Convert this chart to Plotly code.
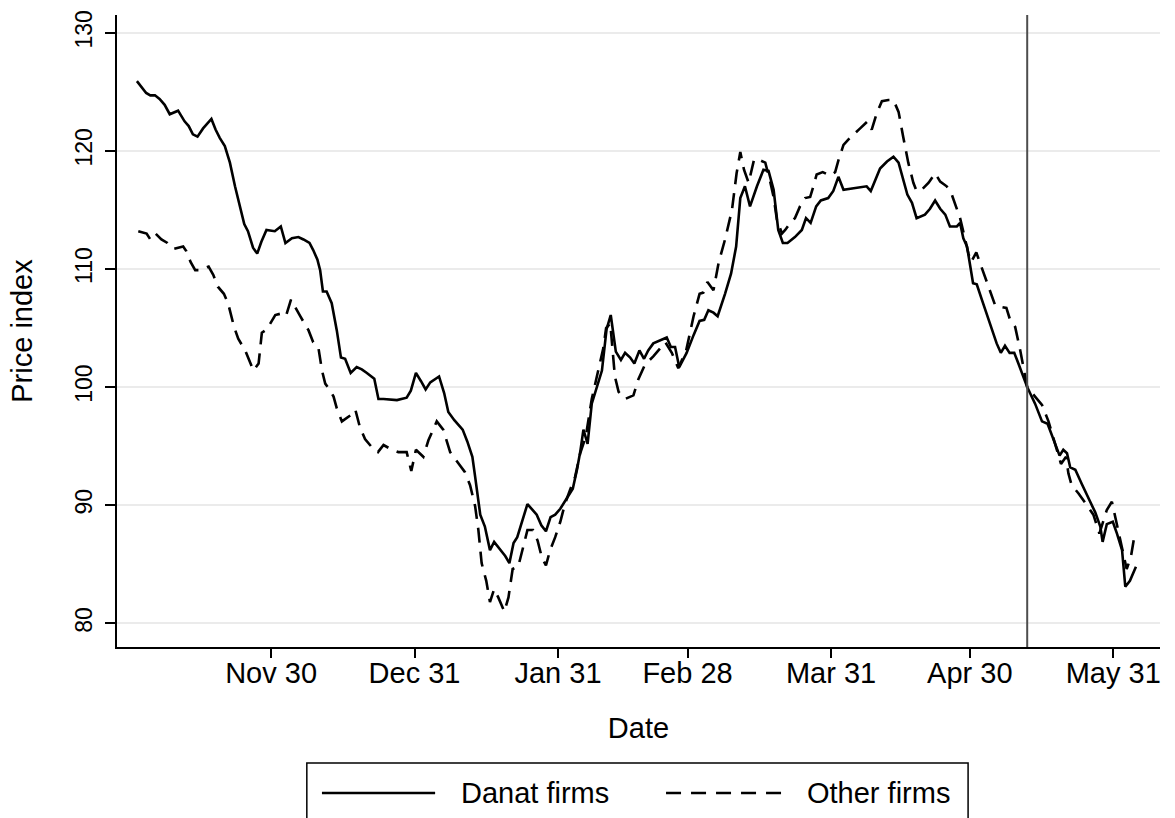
"""
Share prices of Danat-connected firms vs other firms, 1930-31.
Both series are indexed to 100 on the event date (vertical line).
"""

import pandas as pd
import plotly.graph_objects as go


# ── Data ────────────────────────────────────────────────────────
# days are counted from 30 Nov 1930
BASE_DATE = pd.Timestamp("1930-11-30")

danat_day = [
    -29.0, -27.0, -26.1, -25.1, -24.1, -23.0, -21.9, -21.2, -20.1, -18.7,
    -17.8, -16.9, -15.9, -14.7, -12.9, -12.0, -11.1, -10.0, -8.9, -7.8,
    -6.8, -5.8, -5.0, -3.9, -3.0, -2.1, -1.0, 0.8, 2.1, 3.1,
    4.5, 5.9, 7.0, 8.3, 9.1, 10.0, 10.6, 11.2, 12.0, 13.1,
    14.2, 15.1, 16.0, 17.2, 18.5, 19.6, 20.7, 22.3, 23.2, 24.3,
    27.2, 29.3, 30.2, 31.3, 32.4, 33.4, 34.4, 36.3, 37.4, 38.3,
    39.6, 41.4, 42.4, 43.5, 44.1, 44.6, 45.2, 46.2, 47.3, 48.2,
    49.5, 50.6, 51.5, 52.4, 53.2, 54.3, 55.4, 56.5, 57.4, 58.4,
    59.4, 60.4, 61.4, 62.5, 63.5, 64.3, 65.2, 66.1, 66.8, 67.5,
    68.4, 69.3, 70.4, 71.5, 72.5, 73.4, 74.5, 75.6, 76.5, 77.6,
    78.5, 79.6, 80.6, 81.5, 82.6, 85.5, 86.4, 87.3, 88.2, 89.8,
    91.3, 92.6, 93.6, 94.5, 95.6, 96.5, 98.1, 99.4, 100.5, 101.4,
    102.4, 103.5, 105.0, 106.4, 107.5, 108.6, 109.6, 110.6, 111.6, 113.2,
    114.7, 115.6, 116.6, 117.8, 118.8, 120.4, 121.5, 122.6, 123.7, 128.7,
    129.6, 130.5, 131.6, 133.1, 134.5, 135.6, 136.5, 137.5, 138.5, 139.5,
    141.3, 142.4, 143.5, 144.6, 145.7, 146.7, 148.2, 148.9, 149.6, 150.4,
    151.7, 152.5, 153.6, 155.0, 156.8, 157.7, 158.6, 159.6, 160.6, 161.5,
    163.4, 165.1, 166.6, 167.8, 169.1, 170.4, 171.2, 172.0, 172.7, 173.8,
    175.2, 176.6, 178.1, 179.2, 179.7, 180.6, 181.9, 182.8, 183.9, 184.6,
    185.6, 186.9,
]
danat_index = [
    125.9, 124.9, 124.7, 124.7, 124.4, 123.9, 123.1, 123.2, 123.4, 122.5,
    122.1, 121.4, 121.2, 121.9, 122.7, 121.8, 121.1, 120.4, 119.0, 117.0,
    115.3, 113.8, 113.2, 111.8, 111.3, 112.3, 113.3, 113.2, 113.6, 112.2,
    112.6, 112.7, 112.5, 112.2, 111.6, 110.8, 109.9, 108.1, 108.1, 107.1,
    104.8, 102.5, 102.4, 101.2, 101.7, 101.5, 101.2, 100.7, 99.0, 99.0,
    98.9, 99.1, 99.7, 101.2, 100.5, 99.8, 100.4, 100.9, 99.5, 97.9,
    97.2, 96.4, 95.4, 94.1, 92.4, 90.7, 89.2, 88.2, 86.2, 86.9,
    86.3, 85.7, 85.1, 86.8, 87.3, 88.7, 90.1, 89.6, 89.2, 88.3,
    87.8, 89.0, 89.2, 89.7, 90.3, 90.8, 91.4, 93.0, 94.5, 96.4,
    95.2, 98.6, 100.0, 101.4, 104.9, 106.1, 103.0, 102.3, 102.9, 102.5,
    102.0, 103.1, 102.4, 103.1, 103.7, 104.2, 103.4, 103.4, 101.7, 102.9,
    104.4, 105.6, 105.7, 106.5, 106.3, 106.0, 107.9, 109.6, 111.9, 116.0,
    117.0, 115.3, 117.0, 118.4, 118.3, 116.7, 113.3, 112.2, 112.2, 112.7,
    113.3, 114.3, 113.9, 115.3, 115.8, 116.0, 116.6, 117.8, 116.7, 117.0,
    116.6, 117.5, 118.5, 119.1, 119.5, 119.0, 117.7, 116.3, 115.6, 114.3,
    114.6, 115.1, 115.8, 115.1, 114.6, 113.6, 113.6, 113.9, 112.6, 111.9,
    108.8, 108.7, 107.4, 105.8, 103.7, 102.9, 103.5, 102.9, 102.9, 102.0,
    100.0, 98.6, 97.1, 96.9, 95.5, 94.2, 94.7, 94.4, 93.2, 93.0,
    91.8, 90.7, 89.4, 88.2, 86.9, 88.4, 88.6, 87.6, 86.2, 83.1,
    83.6, 84.8,
]

other_day = [
    -28.7, -26.9, -26.1, -25.0, -23.7, -22.4, -21.0, -19.0, -18.3, -17.4,
    -16.4, -15.4, -13.5, -12.5, -11.5, -10.2, -9.3, -8.6, -8.0, -7.1,
    -5.6, -3.8, -2.7, -2.0, -0.9, 0.9, 1.9, 3.2, 4.3, 6.3,
    8.1, 9.1, 10.2, 11.0, 11.7, 12.8, 13.5, 14.2, 15.3, 17.1,
    18.2, 19.2, 20.3, 21.8, 23.1, 24.3, 26.1, 27.5, 29.3, 30.3,
    31.3, 32.9, 34.0, 35.8, 37.2, 38.7, 40.5, 41.9, 43.0, 44.1,
    44.8, 45.5, 46.5, 47.3, 48.2, 49.1, 50.4, 51.3, 52.2, 53.4,
    54.5, 55.4, 56.6, 57.6, 58.5, 59.4, 60.3, 61.4, 62.5, 63.5,
    64.6, 65.7, 66.8, 68.0, 69.3, 70.7, 71.8, 72.4, 73.3, 74.3,
    75.1, 76.5, 78.3, 79.4, 80.8, 82.6, 84.1, 85.2, 86.6, 88.0,
    89.7, 91.3, 92.6, 93.4, 94.3, 95.6, 96.7, 98.1, 99.6, 100.6,
    101.4, 102.2, 103.2, 104.4, 105.7, 106.8, 107.8, 108.6, 109.3, 110.4,
    111.1, 112.2, 113.2, 114.3, 115.4, 116.5, 117.2, 117.9, 119.2, 120.8,
    121.9, 122.6, 123.7, 125.1, 127.3, 128.9, 129.8, 130.9, 132.0, 133.4,
    134.5, 135.6, 136.6, 137.7, 138.8, 139.5, 140.6, 142.1, 143.5, 144.6,
    146.0, 147.1, 148.0, 148.9, 150.0, 150.7, 151.3, 152.4, 153.4, 155.4,
    156.5, 157.6, 158.9, 159.7, 160.8, 161.9, 163.4, 165.1, 166.6, 168.0,
    169.4, 170.7, 171.8, 172.3, 173.0, 174.5, 176.3, 177.7, 179.0, 179.9,
    180.6, 181.7, 182.4, 183.3, 184.2, 184.9, 185.8, 186.7,
]
other_index = [
    113.2, 113.0, 112.5, 113.0, 112.5, 112.2, 111.7, 111.9, 111.5, 110.6,
    109.9, 109.9, 110.2, 109.5, 108.5, 107.9, 107.1, 106.1, 105.1, 104.1,
    103.1, 101.4, 102.0, 104.6, 104.9, 106.1, 106.2, 106.0, 107.4, 106.0,
    104.8, 103.8, 103.4, 101.4, 100.3, 99.7, 99.2, 98.2, 97.1, 97.6,
    98.1, 96.6, 95.6, 94.9, 94.5, 95.1, 94.7, 94.5, 94.5, 92.9,
    94.7, 94.1, 95.5, 97.1, 96.4, 94.5, 93.5, 92.8, 91.7, 89.9,
    87.9, 85.1, 83.6, 81.8, 82.9, 82.2, 81.0, 82.2, 84.6, 84.8,
    86.5, 87.9, 87.9, 87.0, 85.6, 84.9, 86.2, 87.3, 88.6, 90.1,
    91.3, 92.4, 94.4, 95.8, 99.0, 101.4, 103.3, 105.0, 105.4, 100.9,
    99.6, 99.0, 99.3, 100.7, 101.9, 102.6, 103.3, 103.8, 102.9, 101.6,
    103.1, 106.0, 107.9, 108.0, 108.9, 108.2, 110.5, 112.5, 115.0, 118.1,
    119.9, 118.4, 117.3, 119.3, 119.2, 119.0, 117.5, 116.1, 114.2, 113.0,
    113.3, 113.9, 114.3, 115.3, 116.0, 116.1, 117.0, 118.0, 118.2, 117.9,
    118.2, 119.2, 120.5, 121.1, 121.9, 122.5, 121.8, 123.2, 124.2, 124.3,
    124.3, 123.3, 121.2, 119.0, 117.3, 116.6, 116.7, 117.3, 118.1, 117.4,
    117.0, 116.3, 115.3, 114.3, 112.5, 111.3, 110.6, 111.4, 110.3, 108.1,
    106.9, 106.8, 106.7, 105.7, 105.1, 103.1, 100.0, 99.2, 98.5, 97.1,
    95.3, 93.5, 94.1, 92.7, 91.7, 91.0, 90.0, 89.2, 87.6, 88.7,
    89.6, 90.3, 89.0, 87.3, 85.6, 84.6, 85.6, 87.7,
]

event_day = 163.4

tick_dates = ["1930-11-30", "1930-12-31", "1931-01-31", "1931-02-28",
              "1931-03-31", "1931-04-30", "1931-05-31"]
tick_labels = ["Nov 30", "Dec 31", "Jan 31", "Feb 28",
               "Mar 31", "Apr 30", "May 31"]
y_ticks = [80, 90, 100, 110, 120, 130]

series_names = ["Danat firms", "Other firms"]


# ── Styling ─────────────────────────────────────────────────────
FONT = "Liberation Sans, Arial, Helvetica, sans-serif"
DASH = "15px,9px"
GRID = "#EBEBEB"


def to_date(days):
    """Day offsets (from 30 Nov 1930) -> timestamps."""
    return BASE_DATE + pd.to_timedelta(days, unit="D")


fig = go.Figure()

fig.add_trace(go.Scatter(
    x=to_date(danat_day), y=danat_index, mode="lines",
    name=series_names[0], line=dict(color="black", width=2.6),
))
fig.add_trace(go.Scatter(
    x=to_date(other_day), y=other_index, mode="lines",
    name=series_names[1], line=dict(color="black", width=2.6, dash=DASH),
))

# event line
fig.add_shape(
    type="line", xref="x", yref="paper",
    x0=to_date(event_day), x1=to_date(event_day), y0=0, y1=1,
    line=dict(color="#4D4D4D", width=2),
)

# ── Hand-built legend box (long line samples, Stata style) ──────
fig.add_shape(type="rect", xref="paper", yref="paper",
              x0=0.182, x1=0.816, y0=-0.280, y1=-0.1835,
              line=dict(color="black", width=1.5), fillcolor="white")
fig.add_shape(type="line", xref="paper", yref="paper",
              x0=0.1965, x1=0.305, y0=-0.231, y1=-0.231,
              line=dict(color="black", width=2.6))
fig.add_shape(type="line", xref="paper", yref="paper",
              x0=0.5264, x1=0.6376, y0=-0.231, y1=-0.231,
              line=dict(color="black", width=2.6, dash="15px,10px"))
for x_pos, label in zip([0.328, 0.6596], series_names):
    fig.add_annotation(x=x_pos, y=-0.231, xref="paper", yref="paper",
                       text=label, showarrow=False, xanchor="left",
                       yanchor="middle", font=dict(size=29, color="black"))

fig.update_layout(
    width=1175,
    height=818,
    margin=dict(l=117, r=15, t=15, b=171, autoexpand=False),
    paper_bgcolor="white",
    plot_bgcolor="white",
    showlegend=False,
    font=dict(family=FONT, color="black", size=28),
)

fig.update_xaxes(
    type="date",
    range=[to_date(-33.3), to_date(192.1)],
    tickmode="array",
    tickvals=pd.to_datetime(tick_dates),
    ticktext=tick_labels,
    ticks="outside", ticklen=9, tickwidth=2, tickcolor="black",
    ticklabelstandoff=-10,
    showline=True, linecolor="black", linewidth=2,
    showgrid=False, zeroline=False,
    tickfont=dict(size=29),
    title=dict(text="Date", font=dict(size=29), standoff=30),
)
fig.update_yaxes(
    range=[78, 131.5],
    tickmode="array",
    tickvals=y_ticks,
    ticks="outside", ticklen=10, tickwidth=2, tickcolor="black",
    tickangle=-90,
    ticklabelstandoff=4,
    showline=True, linecolor="black", linewidth=2,
    showgrid=True, gridcolor=GRID, gridwidth=2,
    zeroline=False,
    tickfont=dict(size=23),
    title=dict(text="Price index", font=dict(size=29), standoff=30),
)

# page body has an 8px default margin; drop it so the figure sits at 0,0
fig.write_html(
    "out.html",
    config={"displayModeBar": False},
    post_script="document.body.style.margin='0';",
)
